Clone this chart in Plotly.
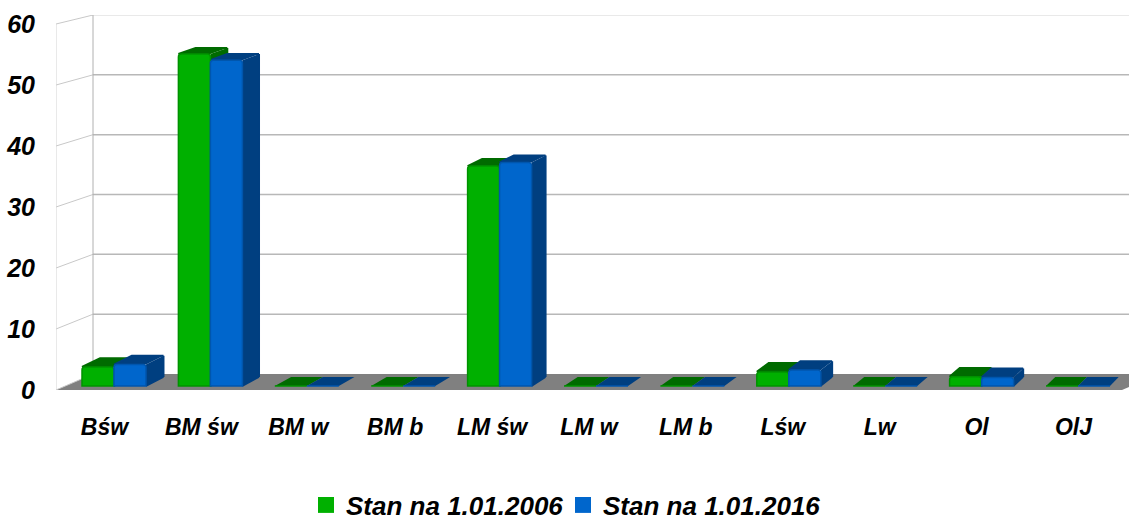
import plotly.graph_objects as go

categories = ["Bśw", "BM św", "BM w", "BM b", "LM św", "LM w", "LM b", "Lśw", "Lw", "Ol", "OlJ"]
series_2006 = [3.1, 54.2, 0, 0, 35.9, 0, 0, 2.3, 0, 1.5, 0]
series_2016 = [3.5, 53.2, 0, 0, 36.5, 0, 0, 2.6, 0, 1.4, 0]
name_2006 = "Stan na 1.01.2006"
name_2016 = "Stan na 1.01.2016"
y_ticks = [0, 10, 20, 30, 40, 50, 60]

FONT = dict(family="Liberation Sans", color="#000000", weight="bold", style="italic")
W, H = 1129, 520
L, R, T, B = 56, 1129, 15, 390

# main plane (labels, walls) : cat i centre at px 104.45 + 96.9 i ; value v at py 390 - 6.1 v
PX = 96.9
PY = 6.1
def mx(px): return (px - 56) / PX - 0.5
def my(py): return (390 - py) / PY
# bar plane: group i centre at px 114 + 96.4 i ; value v at py 386 - 6.125 v
BX0, BX, BY0, BY = 114, 96.4, 386, 6.125
BACK_Y0, BACK_Y = 377, 6.07
BAR_W = 32
def depth(px): return 17.5 - (px - 145) * 8 / 877  # receding edges converge to the right

fig = go.Figure()

def poly(xs, ys, color, lw=0):
    fig.add_trace(go.Scatter(
        x=[mx(p) for p in xs], y=[my(p) for p in ys], mode="lines",
        fill="toself" if lw == 0 else "none", fillcolor=color,
        line=dict(color=color, width=lw), showlegend=False, hoverinfo="skip"))

# floor
poly([56, 93, 1159, 1122], [390, 374, 374, 390], "#808080")
# walls: back-wall gridlines and side-wall diagonals from tick values
for t in y_ticks:
    back = 374 - 5.983 * t
    front = 390 - 6.1 * t
    col = "#e2e2e2" if t == 60 else "#b8b8b8"
    if t > 0:
        poly([93, 1129], [back, back], col, lw=1.5)
    poly([56, 93], [front, back], "#c8c8c8", lw=1)
poly([56, 56], [390 - 6.1 * 60, 390], "#d4d4d4", lw=1)
poly([93, 93], [374 - 5.983 * 60, 374], "#b0b0b0", lw=1)

def faces(values, shift, top_col, side_col):
    for i, v in enumerate(values):
        x0 = BX0 + BX * i + shift
        x1 = x0 + BAR_W
        d0, d1 = depth(x0), depth(x1)
        fy = BY0 - BY * v
        by = BACK_Y0 - BACK_Y * v
        if v > 0:
            poly([x1, x1 + d1, x1 + d1, x1], [BY0, BACK_Y0, by, fy], side_col)
            poly([x1, x1 + d1], [BY0, BACK_Y0], side_col, lw=1.5)
            poly([x1 + d1, x1 + d1], [BACK_Y0, by], side_col, lw=2)
        poly([x0, x0 + d0, x1 + d1, x1], [fy, by, by, fy], top_col)
        if v > 0:
            poly([x0, x0 + d0, x1 + d1], [fy, by, by], top_col, lw=2)

faces(series_2006, -BAR_W, "#006b00", "#006b00")
faces(series_2016, 0, "#003f80", "#003f80")

x_idx = list(range(len(categories)))
fig.add_trace(go.Bar(x=x_idx, y=series_2006, name=name_2006, xaxis="x2", yaxis="y2", showlegend=False,
                     marker=dict(color="#00b000", line=dict(color="#009200", width=1.5))))
fig.add_trace(go.Bar(x=x_idx, y=series_2016, name=name_2016, xaxis="x2", yaxis="y2", showlegend=False,
                     marker=dict(color="#0066cc", line=dict(color="#0056ad", width=1.5))))
# square legend keys
fig.add_trace(go.Scatter(x=[None], y=[None], mode="markers", name=name_2006, legend="legend",
                         marker=dict(symbol="square", size=16, color="#00b000")))
fig.add_trace(go.Scatter(x=[None], y=[None], mode="markers", name=name_2016, legend="legend2",
                         marker=dict(symbol="square", size=16, color="#0066cc")))

legend_common = dict(orientation="h", xref="container", yref="container",
                     xanchor="left", yanchor="middle", y=1 - 505 / H,
                     font=dict(size=26, **FONT), itemwidth=30,
                     bgcolor="rgba(0,0,0,0)")

fig.update_layout(
    width=W, height=H, autosize=False,
    margin=dict(l=L, r=W - R, t=T, b=H - B, pad=0),
    paper_bgcolor="#ffffff", plot_bgcolor="rgba(0,0,0,0)",
    barmode="group", bargap=1 - 2 * BAR_W / BX, bargroupgap=0, barcornerradius=3,
    xaxis=dict(range=[mx(L), mx(R)], tickmode="array", tickvals=x_idx, ticktext=categories,
               tickfont=dict(size=23, **FONT), ticks="outside", ticklen=16,
               tickcolor="rgba(0,0,0,0)", showgrid=False, zeroline=False, showline=False),
    yaxis=dict(range=[my(B), my(T)], tickmode="array", tickvals=y_ticks,
               tickfont=dict(size=25, **FONT), ticks="outside", ticklen=15,
               tickcolor="rgba(0,0,0,0)", showgrid=False, zeroline=False, showline=False),
    xaxis2=dict(overlaying="x", anchor="y2", visible=False,
                range=[(L - BX0) / BX, (R - BX0) / BX]),
    yaxis2=dict(overlaying="y", anchor="x2", visible=False,
                range=[(BY0 - B) / BY, (BY0 - T) / BY]),
    showlegend=True,
    legend=dict(x=306 / W, **legend_common),
    legend2=dict(x=563 / W, **legend_common),
)

fig.write_html("out.html", config=dict(displayModeBar=False),
               post_script="document.body.style.margin='0';document.documentElement.style.overflow='hidden';")
